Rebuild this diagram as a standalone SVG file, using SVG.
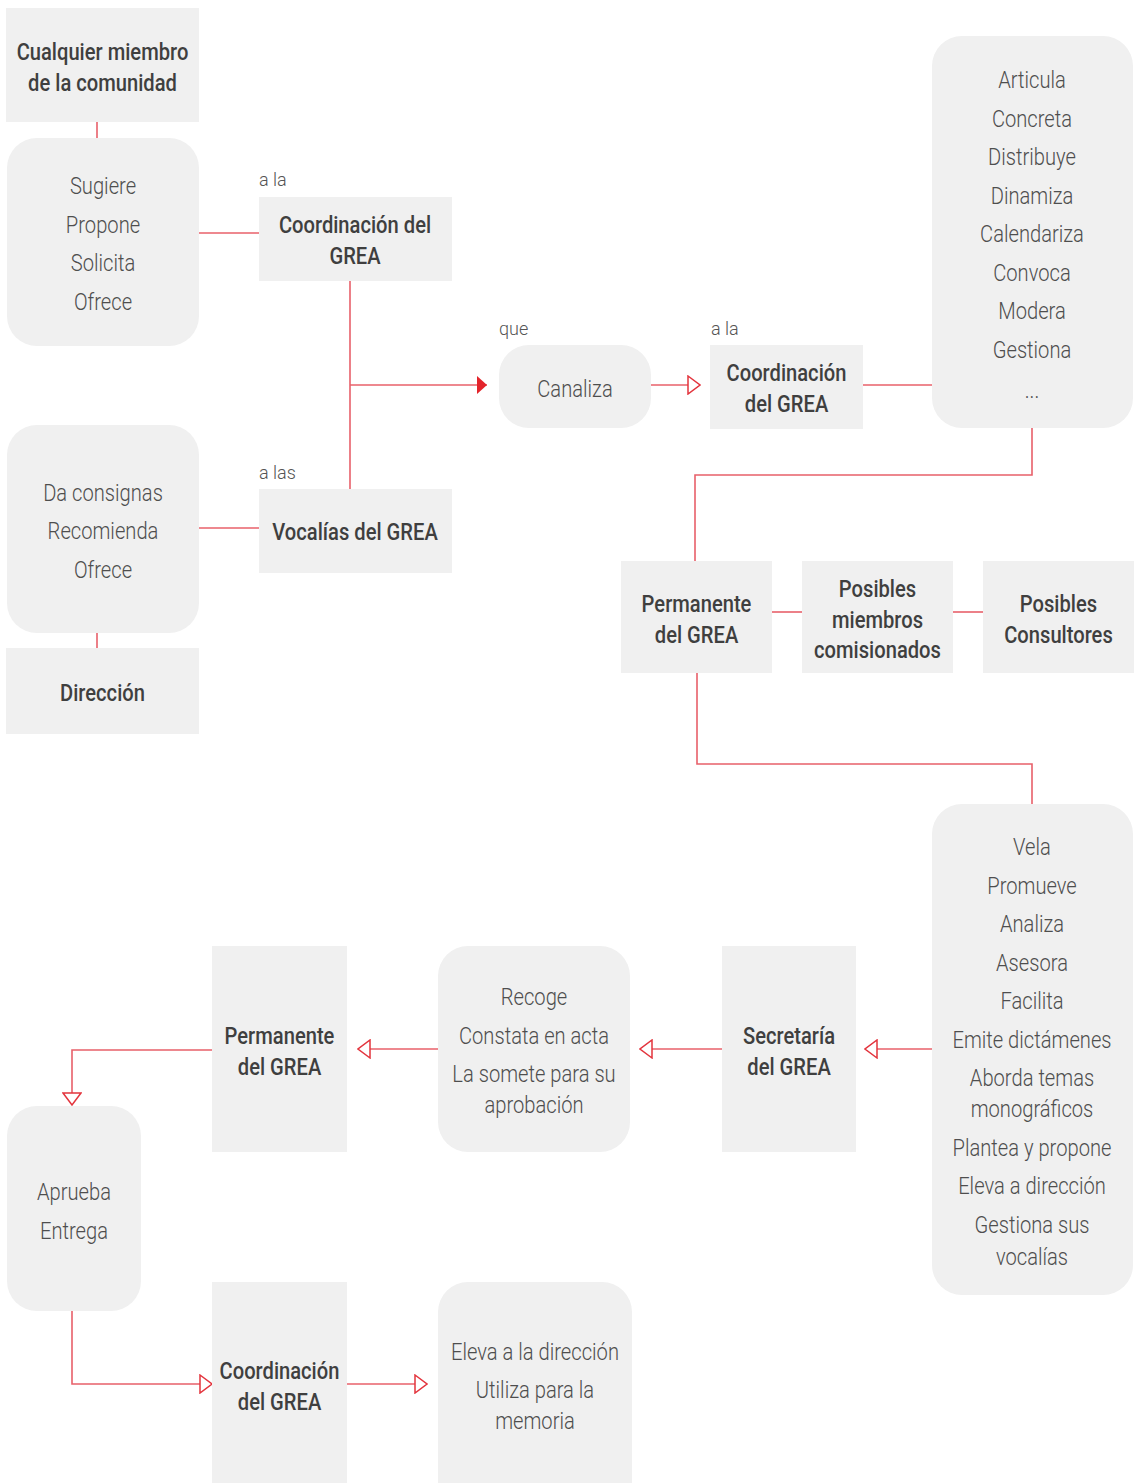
<svg xmlns="http://www.w3.org/2000/svg" width="1137" height="1483" viewBox="0 0 1137 1483">
<style>
.box{fill:#f0f0f0}
.t{font-family:Roboto,"Liberation Sans",sans-serif;font-size:24px;text-anchor:middle;transform-box:fill-box;transform-origin:center;transform:scaleX(0.84)}
.b{fill:#3f3f3f;font-weight:500}
.l{fill:#4e4e4e;font-weight:300}
.s{font-family:Roboto,"Liberation Sans",sans-serif;font-size:18px;fill:#555;font-weight:300}
.c{fill:none;stroke:#e8606a;stroke-width:1.6}
</style>
<defs>
<marker id="open" viewBox="0 0 14 20" refX="13" refY="10" markerWidth="14" markerHeight="20" markerUnits="userSpaceOnUse" orient="auto">
<path d="M1,1 L13,10 L1,19 Z" fill="#fff" stroke="#e3343d" stroke-width="1.5"/>
</marker>
<marker id="filled" viewBox="0 0 10 18" refX="10" refY="9" markerWidth="10" markerHeight="18" markerUnits="userSpaceOnUse" orient="auto">
<path d="M0,0 L10,9 L0,18 Z" fill="#e3242b"/>
</marker>
</defs>
<g id="connectors">
<line class="c" x1="97" y1="122" x2="97" y2="138"/>
<line class="c" x1="199" y1="233" x2="259" y2="233"/>
<line class="c" x1="350" y1="281" x2="350" y2="489"/>
<line class="c" x1="350" y1="385" x2="487" y2="385" marker-end="url(#filled)"/>
<line class="c" x1="651" y1="385" x2="700" y2="385" marker-end="url(#open)"/>
<line class="c" x1="863" y1="385" x2="932" y2="385"/>
<line class="c" x1="199" y1="528" x2="259" y2="528"/>
<line class="c" x1="97" y1="633" x2="97" y2="648"/>
<polyline class="c" points="1032,428 1032,475 695,475 695,561"/>
<line class="c" x1="772" y1="612" x2="802" y2="612"/>
<line class="c" x1="953" y1="612" x2="983" y2="612"/>
<polyline class="c" points="697,673 697,764 1032,764 1032,804"/>
<line class="c" x1="932" y1="1049" x2="865" y2="1049" marker-end="url(#open)"/>
<line class="c" x1="722" y1="1049" x2="640" y2="1049" marker-end="url(#open)"/>
<line class="c" x1="438" y1="1049" x2="358" y2="1049" marker-end="url(#open)"/>
<polyline class="c" points="212,1050 72,1050 72,1105" marker-end="url(#open)"/>
<polyline class="c" points="72,1311 72,1384 212,1384" marker-end="url(#open)"/>
<line class="c" x1="347" y1="1384" x2="427" y2="1384" marker-end="url(#open)"/>
</g>
<g id="n-cualquier"><rect class="box" x="6" y="8" width="193" height="114"/>
<text class="t b" x="102.5" y="60">Cualquier miembro</text><text class="t b" x="102.5" y="91">de la comunidad</text></g>
<g id="n-sugiere"><rect class="box" x="7" y="138" width="192" height="208" rx="30"/>
<text class="t l" x="103" y="194">Sugiere</text><text class="t l" x="103" y="233">Propone</text><text class="t l" x="103" y="271">Solicita</text><text class="t l" x="103" y="310">Ofrece</text></g>
<text class="s" x="259" y="186">a la</text>
<g id="n-coord1"><rect class="box" x="259" y="197" width="193" height="84"/>
<text class="t b" x="355" y="233">Coordinación del</text><text class="t b" x="355" y="264">GREA</text></g>
<text class="s" x="259" y="479">a las</text>
<g id="n-vocalias"><rect class="box" x="259" y="489" width="193" height="84"/>
<text class="t b" x="355" y="540">Vocalías del GREA</text></g>
<g id="n-daconsignas"><rect class="box" x="7" y="425" width="192" height="208" rx="30"/>
<text class="t l" x="103" y="501">Da consignas</text><text class="t l" x="103" y="539">Recomienda</text><text class="t l" x="103" y="578">Ofrece</text></g>
<g id="n-direccion"><rect class="box" x="6" y="648" width="193" height="86"/>
<text class="t b" x="102.5" y="701">Dirección</text></g>
<text class="s" x="499" y="335">que</text>
<g id="n-canaliza"><rect class="box" x="499" y="345" width="152" height="83" rx="30"/>
<text class="t l" x="575" y="397">Canaliza</text></g>
<text class="s" x="711" y="335">a la</text>
<g id="n-coord2"><rect class="box" x="710" y="345" width="153" height="84"/>
<text class="t b" x="786.5" y="381">Coordinación</text><text class="t b" x="786.5" y="412">del GREA</text></g>
<g id="n-articula"><rect class="box" x="932" y="36" width="201" height="392" rx="30"/>
<text class="t l" x="1032" y="88">Articula</text><text class="t l" x="1032" y="127">Concreta</text><text class="t l" x="1032" y="165">Distribuye</text><text class="t l" x="1032" y="204">Dinamiza</text><text class="t l" x="1032" y="242">Calendariza</text><text class="t l" x="1032" y="281">Convoca</text><text class="t l" x="1032" y="319">Modera</text><text class="t l" x="1032" y="358">Gestiona</text><text class="t l" x="1032" y="398">...</text></g>
<g id="n-permanente1"><rect class="box" x="621" y="561" width="151" height="112"/>
<text class="t b" x="696.5" y="612">Permanente</text><text class="t b" x="696.5" y="643">del GREA</text></g>
<g id="n-posibles-miembros"><rect class="box" x="802" y="561" width="151" height="112"/>
<text class="t b" x="877.5" y="597">Posibles</text><text class="t b" x="877.5" y="628">miembros</text><text class="t b" x="877.5" y="658">comisionados</text></g>
<g id="n-consultores"><rect class="box" x="983" y="561" width="151" height="112"/>
<text class="t b" x="1058.5" y="612">Posibles</text><text class="t b" x="1058.5" y="643">Consultores</text></g>
<g id="n-vela"><rect class="box" x="932" y="804" width="201" height="491" rx="30"/>
<text class="t l" x="1032" y="855">Vela</text><text class="t l" x="1032" y="894">Promueve</text><text class="t l" x="1032" y="932">Analiza</text><text class="t l" x="1032" y="971">Asesora</text><text class="t l" x="1032" y="1009">Facilita</text><text class="t l" x="1032" y="1048">Emite dictámenes</text><text class="t l" x="1032" y="1086">Aborda temas</text><text class="t l" x="1032" y="1117">monográficos</text><text class="t l" x="1032" y="1156">Plantea y propone</text><text class="t l" x="1032" y="1194">Eleva a dirección</text><text class="t l" x="1032" y="1233">Gestiona sus</text><text class="t l" x="1032" y="1265">vocalías</text></g>
<g id="n-secretaria"><rect class="box" x="722" y="946" width="134" height="206"/>
<text class="t b" x="789" y="1044">Secretaría</text><text class="t b" x="789" y="1075">del GREA</text></g>
<g id="n-recoge"><rect class="box" x="438" y="946" width="192" height="206" rx="30"/>
<text class="t l" x="534" y="1005">Recoge</text><text class="t l" x="534" y="1044">Constata en acta</text><text class="t l" x="534" y="1082">La somete para su</text><text class="t l" x="534" y="1113">aprobación</text></g>
<g id="n-permanente2"><rect class="box" x="212" y="946" width="135" height="206"/>
<text class="t b" x="279.5" y="1044">Permanente</text><text class="t b" x="279.5" y="1075">del GREA</text></g>
<g id="n-aprueba"><rect class="box" x="7" y="1106" width="134" height="205" rx="30"/>
<text class="t l" x="74" y="1200">Aprueba</text><text class="t l" x="74" y="1239">Entrega</text></g>
<g id="n-coord3"><rect class="box" x="212" y="1282" width="135" height="210"/>
<text class="t b" x="279.5" y="1379">Coordinación</text><text class="t b" x="279.5" y="1410">del GREA</text></g>
<g id="n-eleva"><rect class="box" x="438" y="1282" width="194" height="230" rx="30"/>
<text class="t l" x="535" y="1360">Eleva a la dirección</text><text class="t l" x="535" y="1398">Utiliza para la</text><text class="t l" x="535" y="1429">memoria</text></g>
</svg>
